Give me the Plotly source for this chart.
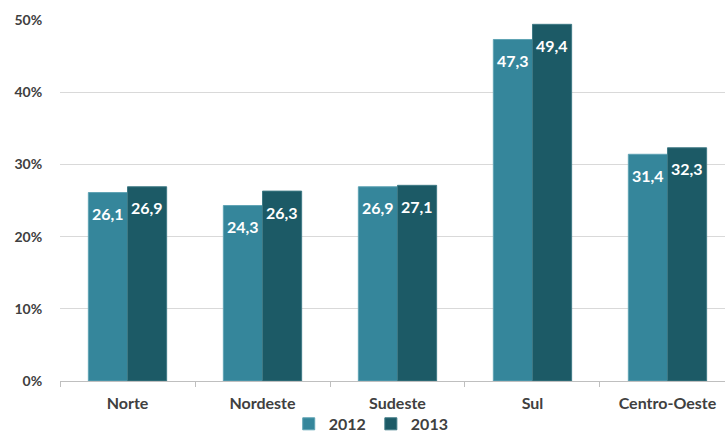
import plotly.graph_objects as go

categories = ["Norte", "Nordeste", "Sudeste", "Sul", "Centro-Oeste"]
values_2012 = [26.1, 24.3, 26.9, 47.3, 31.4]
values_2013 = [26.9, 26.3, 27.1, 49.4, 32.3]
y_ticks = [0, 10, 20, 30, 40, 50]
y_tick_labels = ["0%", "10%", "20%", "30%", "40%", "50%"]

def fmt(v):
    return f"{v:.1f}".replace(".", ",")

FONT = "Lato, 'Open Sans', sans-serif"
c2012 = "#35869B"
c2013 = "#1C5A66"
BAR_PX = 39  # approximate bar width in px (for label centering)

fig = go.Figure()
fig.add_trace(go.Bar(
    x=categories, y=values_2012, name="2012",
    marker=dict(color=c2012, line=dict(color="#5FA3B4", width=1)),
))
fig.add_trace(go.Bar(
    x=categories, y=values_2013, name="2013",
    marker=dict(color=c2013, line=dict(color="#3F7A85", width=1)),
))

annotations = []
for series, shift in ((values_2012, -BAR_PX / 2), (values_2013, BAR_PX / 2)):
    for cat, v in zip(categories, series):
        annotations.append(dict(
            x=cat, y=v, xref="x", yref="y", text=fmt(v), showarrow=False,
            xshift=shift, yshift=-21, yanchor="middle", xanchor="center",
            font=dict(color="white", size=16, family=FONT, weight="bold"),
        ))

fig.update_layout(
    width=725, height=433,
    margin=dict(l=60, r=0, t=20, b=52, autoexpand=False),
    paper_bgcolor="white", plot_bgcolor="white",
    barmode="group", bargap=0.42, bargroupgap=0,
    font=dict(family=FONT, color="#404040", size=14),
    showlegend=True,
    legend=dict(orientation="h", x=0.468, xanchor="center",
                yref="container", y=0.021, yanchor="middle",
                font=dict(size=16, weight="bold", color="#404040"),
                itemwidth=30, tracegroupgap=0, borderwidth=0,
                bgcolor="rgba(0,0,0,0)"),
    annotations=annotations,
)
fig.update_xaxes(
    range=[-0.5, 4.426], showgrid=False, automargin=False,
    showline=True, linecolor="#BFBFBF", linewidth=1,
    ticks="outside", tickcolor="#BFBFBF", ticklen=5,
    tickson="boundaries", ticklabelstandoff=8,
    tickfont=dict(size=16, weight="bold", color="#404040"),
)
fig.update_yaxes(
    range=[0, 50], tickvals=y_ticks, ticktext=y_tick_labels,
    showgrid=True, gridcolor="#D9D9D9", gridwidth=1,
    zeroline=False, showline=False, automargin=False,
    ticks="outside", ticklen=14, tickcolor="white",
    tickfont=dict(size=14, weight="bold", color="#404040"),
)

fig.write_html("out.html")
